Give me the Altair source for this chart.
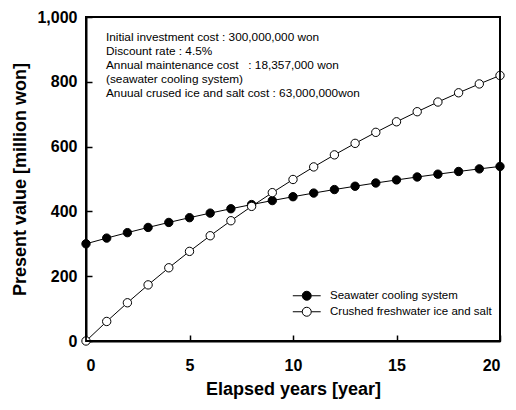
import altair as alt
import pandas as pd

FONT = "Liberation Sans, Arial, sans-serif"

years = list(range(21))
seawater = [300.0, 317.6, 334.4, 350.5, 365.9, 380.6, 394.7, 408.2, 421.1, 433.4, 445.3,
            456.6, 467.4, 477.7, 487.7, 497.1, 506.2, 514.9, 523.2, 531.2, 538.8]
crushed_ice = [0.0, 60.3, 118.0, 173.2, 226.0, 276.6, 324.9, 371.2, 415.5, 457.9, 498.5,
               537.3, 574.5, 610.0, 644.0, 676.6, 707.7, 737.6, 766.1, 793.4, 819.5]
series_names = ["Seawater cooling system", "Crushed freshwater ice and salt"]
series_fills = ["black", "white"]
x_domain = [0, 20]
y_domain = [0, 1000]
x_ticks = [0, 5, 10, 15, 20]
y_ticks = [0, 200, 400, 600, 800, 1000]
annotation_lines = [
    "Initial investment cost : 300,000,000 won",
    "Discount rate : 4.5%",
    "Annual maintenance cost \u00a0 : 18,357,000 won",
    "(seawater cooling system)",
    "Anuual crused ice and salt cost : 63,000,000won",
]

df = pd.DataFrame({
    "year": years + years,
    "value": seawater + crushed_ice,
    "series": [series_names[0]] * len(years) + [series_names[1]] * len(years),
})

# plot frame box spanning the axis domains
box_df = pd.DataFrame({
    "year": [x_domain[0]], "year2": [x_domain[1]],
    "value": [y_domain[0]], "value2": [y_domain[1]],
})

PLOT_H = 324
PLOT_W = 414

x_enc = alt.X(
    "year:Q",
    scale=alt.Scale(domain=x_domain, nice=False),
    axis=alt.Axis(
        values=x_ticks, title="Elapsed years [year]", format="d",
        ticks=False, domain=True, domainColor="black", domainWidth=2, domainOpacity=1,
        grid=True,
        gridDash=[6, PLOT_H - 6], gridDashOffset=6, gridColor="black", gridWidth=1.5, gridOpacity=1,
        labelFont=FONT, labelFontSize=16, labelFontWeight="bold", labelColor="black",
        labelPadding=16.5, labelBaseline="top",
        titleFont=FONT, titleFontSize=18, titleFontWeight="bold", titleColor="black",
        titleX=PLOT_W / 2, titleY=48, titleBaseline="middle", titleAlign="center",
    ),
)
y_enc = alt.Y(
    "value:Q",
    scale=alt.Scale(domain=y_domain, nice=False),
    axis=alt.Axis(
        values=y_ticks, title="Present value [million won]", format=",d",
        ticks=False, domain=True, domainColor="black", domainWidth=2, domainOpacity=1,
        grid=True,
        gridDash=[6, PLOT_W], gridColor="black", gridWidth=1.5, gridOpacity=1,
        labelFont=FONT, labelFontSize=16, labelFontWeight="bold", labelColor="black",
        labelPadding=9,
        titleFont=FONT, titleFontSize=18, titleFontWeight="bold", titleColor="black",
        titleX=-66, titleY=PLOT_H / 2, titleAngle=270, titleBaseline="middle", titleAlign="center",
    ),
)

legend_symbol = "M-3.1,0H-1M1,0H3.1M-1,0A1,1 0 1,0 1,0A1,1 0 1,0 -1,0Z"

box = alt.Chart(box_df).mark_rect(
    fill="white", fillOpacity=0, stroke="black", strokeWidth=1.8, strokeOpacity=1
).encode(
    x=x_enc, x2="year2:Q", y=y_enc, y2="value2:Q"
)

lines = alt.Chart(df).mark_line(color="black", strokeWidth=1).encode(
    x=x_enc, y=y_enc, detail="series:N"
)
points = alt.Chart(df).mark_point(
    shape="circle", size=70, filled=True, stroke="black", strokeWidth=1, opacity=1
).encode(
    x=x_enc, y=y_enc,
    fill=alt.Fill(
        "series:N",
        scale=alt.Scale(domain=series_names, range=series_fills),
        sort=series_names,
        legend=alt.Legend(
            title=None, orient="none", legendX=215, legendY=273, padding=0,
            symbolType=legend_symbol, symbolSize=81, symbolStrokeColor="black",
            symbolStrokeWidth=1, symbolOpacity=1,
            labelFont=FONT, labelFontSize=11.5, labelColor="black", labelOffset=17.5,
            labelLimit=400, rowPadding=2,
        ),
    ),
)

annot = alt.Chart(pd.DataFrame({"t": ["\n".join(annotation_lines)]})).mark_text(
    align="left", baseline="top", font=FONT, fontSize=11.8, color="black",
    lineBreak="\n", lineHeight=14,
).encode(x=alt.value(20), y=alt.value(15), text="t:N")

chart = alt.layer(lines, points, annot, box).properties(
    width=PLOT_W, height=PLOT_H,
    padding={"left": 78, "top": 9, "right": 8, "bottom": 60},
    autosize=alt.AutoSizeParams(type="none"),
    background="white",
).configure_view(stroke="black", strokeWidth=2, fill=None)

chart.save("out.html", embed_options={"renderer": "svg", "actions": False})
